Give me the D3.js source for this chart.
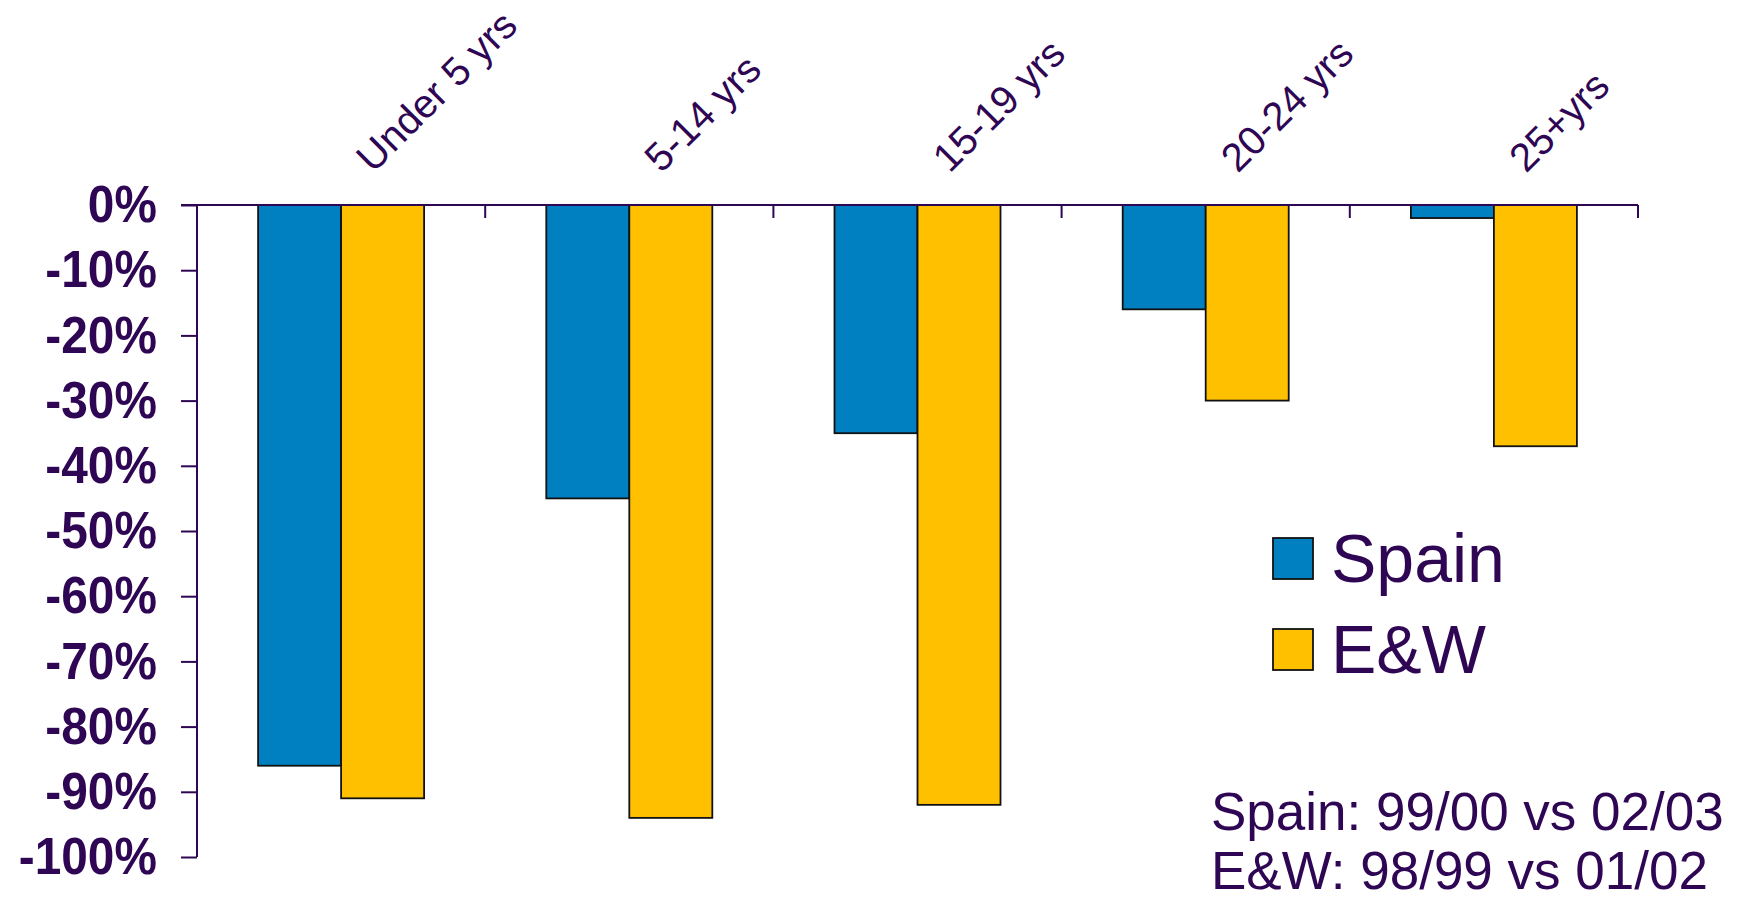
<!DOCTYPE html>
<html>
<head>
<meta charset="utf-8">
<script src="https://cdn.jsdelivr.net/npm/d3@7"></script>
<style>
  html, body { margin: 0; padding: 0; background: #ffffff; }
  svg { display: block; font-family: "Liberation Sans", Arial, sans-serif; }
</style>
</head>
<body>
<svg id="chart" width="1741" height="900"></svg>
<script>
// Age groups along the top of the chart
const categories = ["Under 5 yrs", "5-14 yrs", "15-19 yrs", "20-24 yrs", "25+yrs"];
// Series names
const seriesNames = ["Spain", "E&W"];
// Change in incidence by age group (fractions)
const spainValues = [-0.86, -0.45, -0.35, -0.16, -0.02];
const ewValues = [-0.91, -0.94, -0.92, -0.30, -0.37];
// Y axis tick values
const yTicks = [0, -0.1, -0.2, -0.3, -0.4, -0.5, -0.6, -0.7, -0.8, -0.9, -1.0];
// Period notes
const noteLines = ["Spain: 99/00 vs 02/03", "E&W: 98/99 vs 01/02"];

const seriesColors = ["#0080C0", "#FFC000"];
const ink = "#2E0654";

const svg = d3.select("#chart");

const x0 = d3.scaleBand().domain(categories).range([197, 1638]).padding(0);
const x1 = d3.scaleBand().domain(seriesNames).range([0, x0.bandwidth()])
  .paddingInner(0).paddingOuter(0.736);
const y = d3.scaleLinear().domain([-1, 0]).range([857, 205]);
const color = d3.scaleOrdinal().domain(seriesNames).range(seriesColors);

const rows = categories.map((c, i) => ({ cat: c, vals: [spainValues[i], ewValues[i]] }));

// Bars
const groups = svg.append("g").selectAll("g").data(rows).join("g")
  .attr("transform", d => `translate(${x0(d.cat)},0)`);
groups.selectAll("rect")
  .data(d => d.vals.map((v, j) => ({ name: seriesNames[j], v })))
  .join("rect")
  .attr("x", d => x1(d.name))
  .attr("y", y(0))
  .attr("width", x1.bandwidth())
  .attr("height", d => y(d.v) - y(0))
  .attr("fill", d => color(d.name))
  .attr("stroke", "#111")
  .attr("stroke-width", 1.8);

// Y axis
const labelScaleX = 0.92;
const yAxis = svg.append("g")
  .attr("transform", "translate(197,0)")
  .call(d3.axisLeft(y).tickValues(yTicks).tickSize(16).tickPadding(24)
    .tickFormat(d => Math.round(d * 100) + "%"));
yAxis.select(".domain").attr("stroke", ink).attr("stroke-width", 2)
  .attr("d", `M0,${y(0)}V${y(-1)}`);
yAxis.selectAll(".tick line").attr("stroke", ink).attr("stroke-width", 2);
yAxis.selectAll(".tick text")
  .attr("fill", ink)
  .attr("font-size", 52)
  .attr("font-weight", "bold")
  .attr("font-family", "'Liberation Sans', Arial, sans-serif")
  .attr("x", -40 / labelScaleX)
  .attr("transform", `scale(${labelScaleX},1)`);

// X axis along zero line, ticks between categories pointing down
const boundaries = categories.map(c => x0(c) + x0.bandwidth());
const xAxis = svg.append("g");
xAxis.append("line")
  .attr("x1", 181).attr("x2", 1638)
  .attr("y1", y(0)).attr("y2", y(0))
  .attr("stroke", ink).attr("stroke-width", 2);
xAxis.selectAll("line.tick").data(boundaries).join("line")
  .attr("class", "tick")
  .attr("x1", d => d).attr("x2", d => d)
  .attr("y1", y(0)).attr("y2", y(0) + 13)
  .attr("stroke", ink).attr("stroke-width", 2);

// Category labels, rotated
svg.append("g").selectAll("text").data(categories).join("text")
  .attr("transform", d => `translate(${x0(d) + x0.bandwidth() / 2 + 32},174) rotate(-45)`)
  .attr("text-anchor", "start")
  .attr("fill", ink)
  .attr("font-size", 40)
  .text(d => d);

// Legend
const legend = svg.append("g").selectAll("g").data(seriesNames).join("g")
  .attr("transform", (d, i) => `translate(1273,${538 + i * 91})`);
legend.append("rect")
  .attr("width", 40).attr("height", 41)
  .attr("fill", d => color(d))
  .attr("stroke", "#111").attr("stroke-width", 1.8);
legend.append("text")
  .attr("x", 58).attr("y", 44)
  .attr("fill", ink)
  .attr("font-size", 68)
  .text(d => d);

// Period notes
svg.append("g").selectAll("text").data(noteLines).join("text")
  .attr("x", 1211)
  .attr("y", (d, i) => 830 + i * 59)
  .attr("fill", ink)
  .attr("font-size", 53)
  .text(d => d);
</script>
</body>
</html>
